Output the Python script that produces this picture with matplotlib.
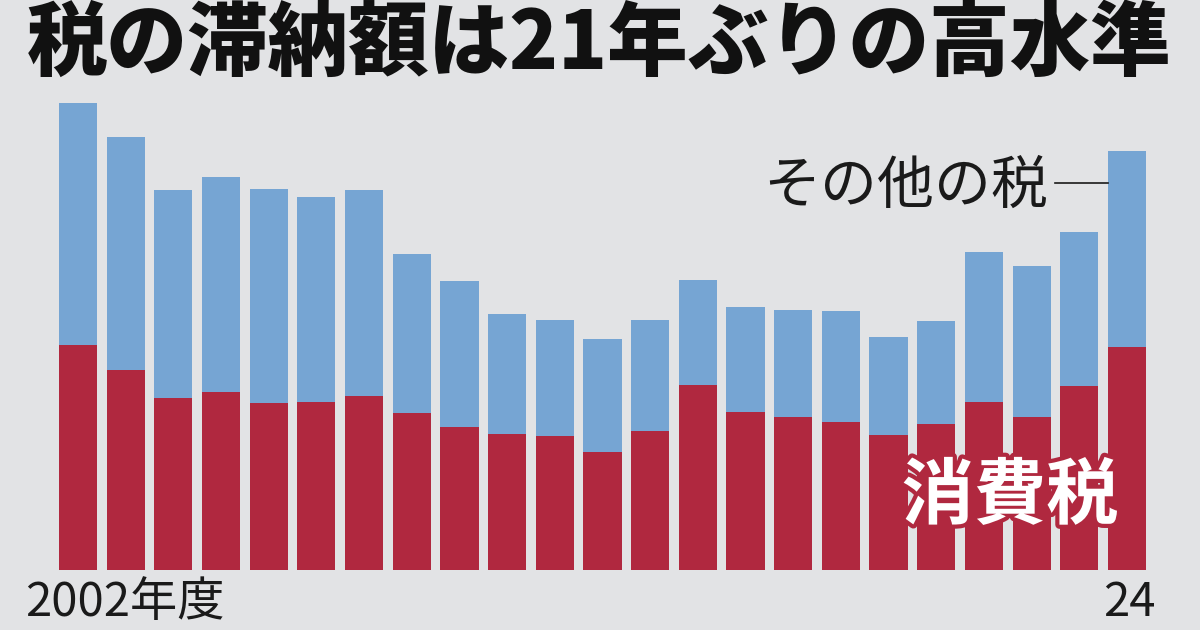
import matplotlib.pyplot as plt
import matplotlib.patheffects as pe
import numpy as np

plt.rcParams['font.family'] = ['Noto Sans CJK JP', 'DejaVu Sans']

# 年度 2002〜2024, 滞納額 (億円, 図から読み取り)
years = list(range(2002, 2025))
consumption = [5400, 4800, 4130, 4270, 4010, 4030, 4180, 3770, 3430, 3260, 3220, 2830,
               3340, 4440, 3790, 3670, 3550, 3240, 3500, 4030, 3670, 4420, 5350]
others = [5810, 5590, 4990, 5160, 5140, 4920, 4940, 3820, 3500, 2880, 2780, 2710,
          2660, 2520, 2520, 2570, 2660, 2350, 2470, 3600, 3620, 3700, 4700]

bg = '#e2e3e5'
red = '#b0283f'
blue = '#76a5d3'

fig = plt.figure(figsize=(12, 6.3), dpi=100, facecolor=bg)
ax = fig.add_axes([0, 0, 1, 1])
ax.set_facecolor(bg)

x = np.arange(len(years))
ax.bar(x, consumption, width=0.8, color=red, linewidth=0)
ax.bar(x, others, width=0.8, bottom=consumption, color=blue, linewidth=0)

pitch = 47.68
ax.set_xlim(-78 / pitch, (1200 - 78) / pitch)
ax.set_ylim(-60 * 24, 570 * 24)
ax.axis('off')

# タイトル
fig.text(0.499, 1 - 45 / 630, '税の滞納額は21年ぶりの高水準', ha='center', va='center',
         fontsize=58, fontweight='heavy', color='#111111')

# ラベル
fig.text(1048 / 1200, 1 - 187 / 630, 'その他の税', ha='right', va='center',
         fontsize=41, color='#1a1a1a')
fig.add_artist(plt.Line2D([1055 / 1200, 1108 / 1200], [1 - 183 / 630, 1 - 183 / 630],
                          color='#1a1a1a', linewidth=1.2))

fig.text(1010 / 1200, 1 - 497 / 630, '消費税', ha='center', va='center',
         fontsize=52, fontweight='bold', color='white',
         path_effects=[pe.withStroke(linewidth=6, foreground=red)])

# 年度ラベル
fig.text(25 / 1200, 3 / 630, '2002年度', ha='left', va='bottom',
         fontsize=34, color='#1a1a1a')
fig.text(1129 / 1200, 3 / 630, '24', ha='center', va='bottom',
         fontsize=34, color='#1a1a1a')

plt.savefig('out.png', dpi=100, facecolor=bg)
